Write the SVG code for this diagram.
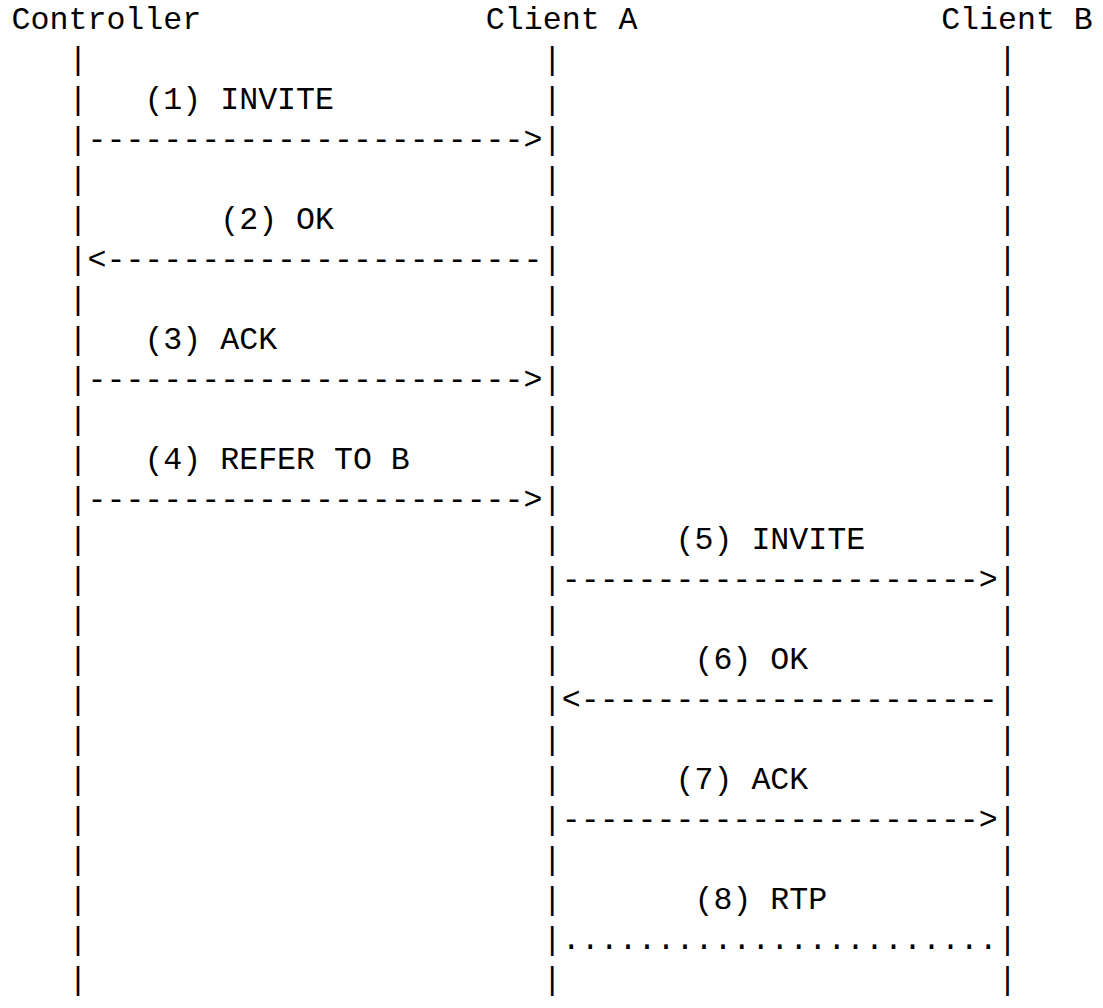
<svg xmlns="http://www.w3.org/2000/svg" width="1103" height="1008" viewBox="0 0 1103 1008">
<style>
text{font-family:"Liberation Mono","Courier New",monospace;font-size:31.6px;fill:#000;white-space:pre}
</style>
<rect width="1103" height="1008" fill="#fff"/>
<g id="controller">
<text x="11.6" y="29">Controller</text>
<text><tspan x="68.51" y="69">|</tspan><tspan x="68.51" y="109">|</tspan><tspan x="68.51" y="149">|</tspan><tspan x="68.51" y="189">|</tspan><tspan x="68.51" y="229">|</tspan><tspan x="68.51" y="269">|</tspan><tspan x="68.51" y="309">|</tspan><tspan x="68.51" y="349">|</tspan><tspan x="68.51" y="389">|</tspan><tspan x="68.51" y="429">|</tspan><tspan x="68.51" y="469">|</tspan><tspan x="68.51" y="509">|</tspan><tspan x="68.51" y="549">|</tspan><tspan x="68.51" y="589">|</tspan><tspan x="68.51" y="629">|</tspan><tspan x="68.51" y="669">|</tspan><tspan x="68.51" y="709">|</tspan><tspan x="68.51" y="749">|</tspan><tspan x="68.51" y="789">|</tspan><tspan x="68.51" y="829">|</tspan><tspan x="68.51" y="869">|</tspan><tspan x="68.51" y="909">|</tspan><tspan x="68.51" y="949">|</tspan><tspan x="68.51" y="989">|</tspan></text>
</g>
<g id="clientA">
<text x="485.85" y="29">Client A</text>
<text><tspan x="542.76" y="69">|</tspan><tspan x="542.76" y="109">|</tspan><tspan x="542.76" y="149">|</tspan><tspan x="542.76" y="189">|</tspan><tspan x="542.76" y="229">|</tspan><tspan x="542.76" y="269">|</tspan><tspan x="542.76" y="309">|</tspan><tspan x="542.76" y="349">|</tspan><tspan x="542.76" y="389">|</tspan><tspan x="542.76" y="429">|</tspan><tspan x="542.76" y="469">|</tspan><tspan x="542.76" y="509">|</tspan><tspan x="542.76" y="549">|</tspan><tspan x="542.76" y="589">|</tspan><tspan x="542.76" y="629">|</tspan><tspan x="542.76" y="669">|</tspan><tspan x="542.76" y="709">|</tspan><tspan x="542.76" y="749">|</tspan><tspan x="542.76" y="789">|</tspan><tspan x="542.76" y="829">|</tspan><tspan x="542.76" y="869">|</tspan><tspan x="542.76" y="909">|</tspan><tspan x="542.76" y="949">|</tspan><tspan x="542.76" y="989">|</tspan></text>
</g>
<g id="clientB">
<text x="941.13" y="29">Client B</text>
<text><tspan x="998.04" y="69">|</tspan><tspan x="998.04" y="109">|</tspan><tspan x="998.04" y="149">|</tspan><tspan x="998.04" y="189">|</tspan><tspan x="998.04" y="229">|</tspan><tspan x="998.04" y="269">|</tspan><tspan x="998.04" y="309">|</tspan><tspan x="998.04" y="349">|</tspan><tspan x="998.04" y="389">|</tspan><tspan x="998.04" y="429">|</tspan><tspan x="998.04" y="469">|</tspan><tspan x="998.04" y="509">|</tspan><tspan x="998.04" y="549">|</tspan><tspan x="998.04" y="589">|</tspan><tspan x="998.04" y="629">|</tspan><tspan x="998.04" y="669">|</tspan><tspan x="998.04" y="709">|</tspan><tspan x="998.04" y="749">|</tspan><tspan x="998.04" y="789">|</tspan><tspan x="998.04" y="829">|</tspan><tspan x="998.04" y="869">|</tspan><tspan x="998.04" y="909">|</tspan><tspan x="998.04" y="949">|</tspan><tspan x="998.04" y="989">|</tspan></text>
</g>
<g id="connectors">
<text x="87.48" y="149">-----------------------&gt;</text>
<text x="87.48" y="269">&lt;-----------------------</text>
<text x="87.48" y="389">-----------------------&gt;</text>
<text x="87.48" y="509">-----------------------&gt;</text>
<text x="561.73" y="589">----------------------&gt;</text>
<text x="561.73" y="709">&lt;----------------------</text>
<text x="561.73" y="829">----------------------&gt;</text>
<text x="561.73" y="949">.......................</text>
</g>
<g id="labels">
<text x="144.39" y="109">(1) INVITE</text>
<text x="220.27" y="229">(2) OK</text>
<text x="144.39" y="349">(3) ACK</text>
<text x="144.39" y="469">(4) REFER TO B</text>
<text x="675.55" y="549">(5) INVITE</text>
<text x="694.52" y="669">(6) OK</text>
<text x="675.55" y="789">(7) ACK</text>
<text x="694.52" y="909">(8) RTP</text>
</g>
</svg>
